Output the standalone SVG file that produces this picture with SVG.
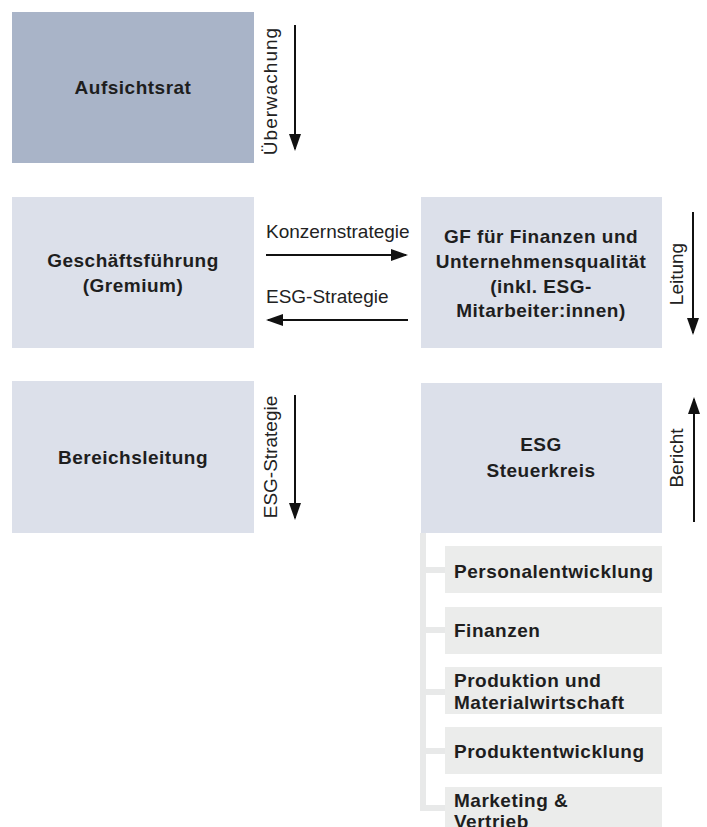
<svg xmlns="http://www.w3.org/2000/svg" width="707" height="827" viewBox="0 0 707 827">
<style>
.dark{fill:#a9b4c8}
.light{fill:#dce0ea}
.sub{fill:#ebeceb}
.bt{font-family:"Liberation Sans",Arial,sans-serif;font-weight:bold;font-size:19px;letter-spacing:0.5px;fill:#1e1e1e}
.bc{text-anchor:middle}
.lt{font-family:"Liberation Sans",Arial,sans-serif;font-size:19px;fill:#222}
.ar{stroke:#111;stroke-width:2;fill:none;marker-end:url(#ah)}
.tree{stroke:#e8e9e9;stroke-width:6;fill:none}
</style>
<defs>
<marker id="ah" markerUnits="userSpaceOnUse" markerWidth="18" markerHeight="13" refX="15" refY="6" orient="auto">
<path d="M0,0 L17,6 L0,12 Z" fill="#111"/>
</marker>
</defs>
<rect width="707" height="827" fill="#fff"/>

<g id="aufsichtsrat">
<rect class="dark" x="12" y="12" width="242" height="151"/>
<text class="bt bc" x="133" y="94" letter-spacing="0.9">Aufsichtsrat</text>
</g>

<g id="geschaeftsfuehrung">
<rect class="light" x="12" y="197" width="242" height="151"/>
<text class="bt bc" x="133" y="267" letter-spacing="0.9">Geschäftsführung</text>
<text class="bt bc" x="133" y="292" letter-spacing="0.9">(Gremium)</text>
</g>

<g id="gf-finanzen">
<rect class="light" x="421" y="197" width="241" height="151"/>
<text class="bt bc" x="541" y="243">GF für Finanzen und</text>
<text class="bt bc" x="541" y="268">Unternehmensqualität</text>
<text class="bt bc" x="541" y="293">(inkl. ESG-</text>
<text class="bt bc" x="541" y="317">Mitarbeiter:innen)</text>
</g>

<g id="bereichsleitung">
<rect class="light" x="12" y="381" width="242" height="152"/>
<text class="bt bc" x="133" y="464">Bereichsleitung</text>
</g>

<g id="esg-steuerkreis">
<rect class="light" x="421" y="383" width="241" height="150"/>
<text class="bt bc" x="541" y="451">ESG</text>
<text class="bt bc" x="541" y="477">Steuerkreis</text>
</g>

<g id="connectors">
<path class="tree" d="M423,533 V808 H445"/>
<path class="tree" d="M426,570 H445 M426,630 H445 M426,692 H445 M426,751 H445"/>
<line class="ar" x1="295" y1="25" x2="295" y2="149"/>
<line class="ar" x1="266" y1="255" x2="406" y2="255"/>
<line class="ar" x1="408" y1="320" x2="268" y2="320"/>
<line class="ar" x1="693" y1="212" x2="693" y2="333"/>
<line class="ar" x1="295" y1="395" x2="295" y2="518"/>
<line class="ar" x1="694" y1="522" x2="694" y2="399"/>
<text class="lt" x="266" y="238">Konzernstrategie</text>
<text class="lt" x="266" y="303">ESG-Strategie</text>
<text class="lt" text-anchor="middle" letter-spacing="1" transform="translate(277,91) rotate(-90)">Überwachung</text>
<text class="lt" text-anchor="middle" transform="translate(277,457) rotate(-90)">ESG-Strategie</text>
<text class="lt" text-anchor="middle" transform="translate(683,274) rotate(-90)">Leitung</text>
<text class="lt" text-anchor="middle" transform="translate(683,458) rotate(-90)">Bericht</text>
</g>

<g id="personalentwicklung">
<rect class="sub" x="445" y="546" width="217" height="47"/>
<text class="bt" x="454" y="578">Personalentwicklung</text>
</g>
<g id="finanzen">
<rect class="sub" x="445" y="607" width="217" height="47"/>
<text class="bt" x="454" y="637">Finanzen</text>
</g>
<g id="produktion">
<rect class="sub" x="445" y="667" width="217" height="47"/>
<text class="bt" x="454" y="687">Produktion und</text>
<text class="bt" x="454" y="709">Materialwirtschaft</text>
</g>
<g id="produktentwicklung">
<rect class="sub" x="445" y="727" width="217" height="47"/>
<text class="bt" x="454" y="758">Produktentwicklung</text>
</g>
<g id="marketing">
<rect class="sub" x="445" y="787" width="217" height="47"/>
<text class="bt" x="454" y="807">Marketing &amp;</text>
<text class="bt" x="454" y="828">Vertrieb</text>
</g>
</svg>
